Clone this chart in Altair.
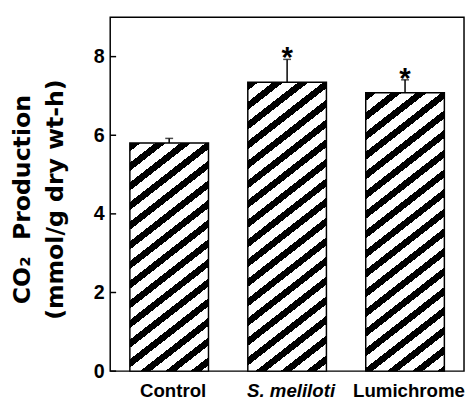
import altair as alt
import pandas as pd

# ---- data ----
groups = ["Control", "S. meliloti", "Lumichrome"]
means = [5.8, 7.35, 7.08]
errors = [0.12, 0.58, 0.33]
signif = ["", "*", "*"]
y_ticks = [0, 2, 4, 6, 8]

df = pd.DataFrame({"group": groups, "mean": means, "err": errors, "sig": signif})
df["top"] = df["mean"] + df["err"]
tick_df = pd.DataFrame({"tick": y_ticks})

PLOT_W, PLOT_H = 360, 360
Y_MAX = 9
BAR_W = PLOT_W / 3 * (2 / 3)          # band width (step 120, paddingInner 1/3)
PX_PER_UNIT = PLOT_H / Y_MAX

# ---- hatch fill: hard-stop linear gradient giving "/" stripes ----
SLOPE = 0.78      # stripe rise per px across
PERIOD = 20.0     # vertical period of the stripes, px
FRAC = 0.42       # share of black in a period


def hatch(h_px):
    w = BAR_W
    D = SLOPE * w + h_px
    s = D * h_px / (h_px ** 2 + (SLOPE * w) ** 2)
    x2 = SLOPE * w / h_px * s
    y2 = s

    def col(p):
        return "black" if (p % PERIOD) < FRAC * PERIOD else "white"

    bounds = []
    k = 0
    while k * PERIOD < D + PERIOD:
        for b in (k * PERIOD, k * PERIOD + FRAC * PERIOD):
            if 0 < b < D:
                bounds.append(b)
        k += 1
    bounds.sort()
    stops = [alt.GradientStop(offset=0, color=col(0.001))]
    for b in bounds:
        off = b / D
        stops.append(alt.GradientStop(offset=off, color=col(b - 0.001)))
        stops.append(alt.GradientStop(offset=off, color=col(b + 0.001)))
    stops.append(alt.GradientStop(offset=1, color=col(D - 0.001)))
    return alt.Gradient(gradient="linear", stops=stops, x1=0, y1=0, x2=x2, y2=y2)


x_axis = alt.Axis(
    title=None,
    ticks=False,
    domain=False,
    labelAngle=0,
    labelFont="Liberation Sans",
    labelFontSize=19,
    labelFontWeight="bold",
    labelFontStyle=alt.ExprRef(expr="datum.value == 'S. meliloti' ? 'italic' : 'normal'"),
    labelColor="black",
    labelPadding=11,
    labelOffset=4,
)
x_scale = alt.Scale(paddingInner=1 / 3, paddingOuter=1 / 6)
x_enc = alt.X("group:N", sort=groups, scale=x_scale, axis=x_axis)

y_scale = alt.Scale(domain=[0, Y_MAX], nice=False, zero=True)
y_axis = alt.Axis(
    values=y_ticks,
    ticks=False,
    tickSize=0,
    domain=False,
    grid=False,
    labelFont="Liberation Sans",
    labelFontSize=20,
    labelFontWeight="bold",
    labelColor="black",
    labelPadding=6,
    title=["CO\u2082\u00a0\u00a0Production", "(mmol/g dry wt-h)"],
    titleFont="DejaVu Sans",
    titleFontSize=24,
    titleFontWeight="bold",
    titleColor="black",
    titleAngle=270,
    titleAlign="center",
    titleBaseline="alphabetic",
    titleLineHeight=33,
    titleX=-82,
    titleY=185,
)


def Y(field):
    return alt.Y(field, scale=y_scale, axis=y_axis)


base = alt.Chart(df)

bar_layers = []
for i, g in enumerate(groups):
    h_px = means[i] * PX_PER_UNIT
    bar_layers.append(
        base.transform_filter(alt.datum.group == g)
        .mark_bar(fill=hatch(h_px), stroke="black", strokeWidth=1.5)
        .encode(x=x_enc, y=Y("mean:Q"))
    )

err_rule = base.mark_rule(color="black", strokeWidth=1.5).encode(
    x=x_enc, y=Y("mean:Q"), y2="top:Q",
)
err_cap = base.mark_tick(color="black", thickness=1.5, size=8).encode(
    x=x_enc, y=Y("top:Q"),
)
stars = base.mark_text(
    font="Liberation Sans", fontSize=30, fontWeight="bold", color="black",
    baseline="alphabetic", dy=8,
).encode(x=x_enc, y=Y("top:Q"), text="sig:N")

inner_ticks = alt.Chart(tick_df).mark_rule(color="black", strokeWidth=1.5).encode(
    y=Y("tick:Q"),
    x=alt.value(0),
    x2=alt.value(6),
)

chart = (
    alt.layer(*bar_layers, err_rule, err_cap, stars, inner_ticks)
    .properties(width=PLOT_W, height=PLOT_H, background="white",
                autosize=alt.AutoSizeParams(type="none"),
                padding={"left": 104, "top": 6, "right": 1, "bottom": 31})
    .configure_view(stroke="black", strokeWidth=1.5)
)

chart.save("out.html", embed_options={"renderer": "svg", "actions": False})
